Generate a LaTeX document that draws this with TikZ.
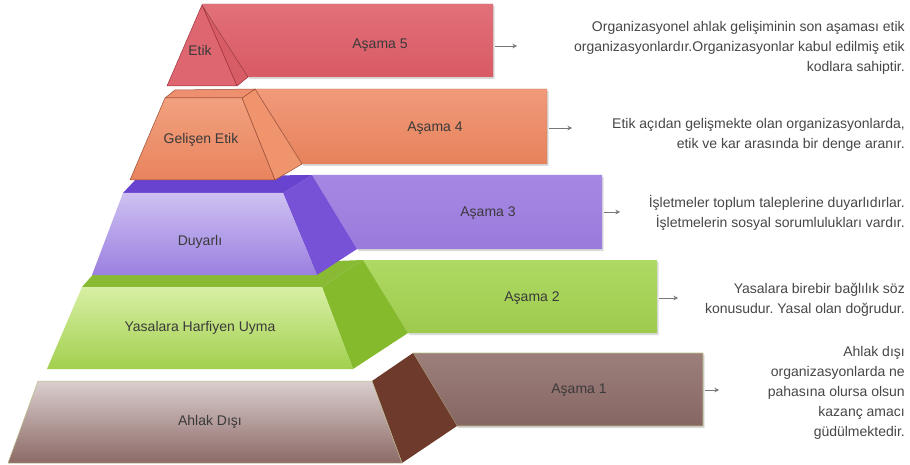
\documentclass[tikz,border=0pt]{standalone}
\usepackage{fontspec}
\setmainfont{Liberation Sans}
\frenchspacing
\usetikzlibrary{arrows.meta,shadows}
\definecolor{labeltext}{HTML}{3A3A3A}
\definecolor{desctext}{HTML}{474747}
\definecolor{arrowgray}{HTML}{777777}
% brown
\definecolor{brBoxA}{HTML}{9C7F7B}\definecolor{brBoxM}{HTML}{A38884}\definecolor{brBoxB}{HTML}{866662}
\definecolor{brFrontA}{HTML}{DACECE}\definecolor{brFrontB}{HTML}{8C6A66}
\definecolor{brSide}{HTML}{6E3A2C}\definecolor{brEdge}{HTML}{BDBF8A}
% green
\definecolor{grBoxA}{HTML}{AED963}\definecolor{grBoxB}{HTML}{9ECB4E}
\definecolor{grFrontA}{HTML}{D8EFA4}\definecolor{grFrontB}{HTML}{A2D04E}
\definecolor{grTop}{HTML}{88BA34}\definecolor{grSide}{HTML}{84BA2C}
% purple
\definecolor{puBoxA}{HTML}{A688E3}\definecolor{puBoxB}{HTML}{9A7BDC}
\definecolor{puFrontA}{HTML}{CEC0F2}\definecolor{puFrontB}{HTML}{9B80E0}
\definecolor{puTop}{HTML}{6743CF}\definecolor{puSide}{HTML}{7752D6}
% orange
\definecolor{orBoxA}{HTML}{F29A7A}\definecolor{orBoxB}{HTML}{E6825C}
\definecolor{orFrontA}{HTML}{F2A07E}\definecolor{orFrontB}{HTML}{E8845E}
\definecolor{orTop}{HTML}{EE9070}\definecolor{orSide}{HTML}{F0946E}
\definecolor{orEdge}{HTML}{9A4E36}
% red
\definecolor{reBoxA}{HTML}{E2707A}\definecolor{reBoxB}{HTML}{D85A64}
\definecolor{reFront}{HTML}{DE6670}\definecolor{reSide}{HTML}{D65C66}
\definecolor{reEdge}{HTML}{A0303A}
\begin{document}
\begin{tikzpicture}[x=1pt,y=-1pt,
  lbl/.style={font=\fontsize{14}{17}\selectfont, text=labeltext, inner sep=0pt},
  desc/.style={font=\fontsize{14}{20}\selectfont, text=desctext, align=right, anchor=east, inner sep=0pt},
  conn/.style={draw=arrowgray, line width=0.8pt, -{Stealth[length=4.5pt,width=4.5pt]}},
  boxshadow/.style={drop shadow={opacity=0.28, shadow xshift=1.5pt, shadow yshift=-2pt}},
  face/.style={line join=round}]
\useasboundingbox (0,0) rectangle (910,465);
\fill[white] (0,0) rectangle (910,465);

% ---------- Level 1: Ahlak Disi ----------
\path[face, boxshadow, top color=brBoxA, middle color=brBoxM, bottom color=brBoxB, draw=brEdge, line width=0.6pt]
  (413,353) -- (703,353) -- (703,426) -- (457,426) -- cycle;
\path[face, fill=brSide] (372,381) -- (413,353) -- (457,426) -- (402,463) -- cycle;
\path[face, top color=brFrontA, bottom color=brFrontB, draw=brEdge, line width=0.5pt]
  (38,381) -- (372,381) -- (402,463) -- (8,463) -- cycle;
\node[lbl] (l1) at (210,422) {Ahlak Dışı};
\node[lbl] (s1) at (579,390) {Aşama 1};

% ---------- Level 2: Yasalara Harfiyen Uyma ----------
\path[face, boxshadow, top color=grBoxA, bottom color=grBoxB]
  (363,260) -- (657,260) -- (657,333) -- (408,333) -- cycle;
\path[face, fill=grSide] (322,287) -- (363,260) -- (408,333) -- (353,369) -- cycle;
\path[face, fill=grTop] (82,287) -- (97,270) -- (363,260) -- (322,287) -- cycle;
\path[face, top color=grFrontA, bottom color=grFrontB]
  (82,287) -- (322,287) -- (353,369) -- (47,369) -- cycle;
\node[lbl] (l2) at (200,328) {Yasalara Harfiyen Uyma};
\node[lbl] (s2) at (532,298) {Aşama 2};

% ---------- Level 3: Duyarli ----------
\path[face, boxshadow, top color=puBoxA, bottom color=puBoxB]
  (312,175) -- (602,175) -- (602,249) -- (357,249) -- cycle;
\path[face, fill=puSide] (283,193) -- (312,175) -- (357,249) -- (317,275) -- cycle;
\path[face, fill=puTop] (123,193) -- (138,177) -- (312,175) -- (283,193) -- cycle;
\path[face, top color=puFrontA, bottom color=puFrontB]
  (123,193) -- (283,193) -- (317,275) -- (92,275) -- cycle;
\node[lbl] (l3) at (200,242) {Duyarlı};
\node[lbl] (s3) at (488,213) {Aşama 3};

% ---------- Level 4: Gelisen Etik ----------
\path[face, boxshadow, top color=orBoxA, bottom color=orBoxB, draw=orEdge!70, line width=0.4pt]
  (255,89) -- (547,89) -- (547,164) -- (302,164) -- cycle;
\path[face, fill=orSide, draw=orEdge, line width=0.5pt] (242,98) -- (255,89) -- (302,164) -- (275,180) -- cycle;
\path[face, fill=orTop, draw=orEdge, line width=0.5pt] (165,98) -- (175,90) -- (255,89) -- (242,98) -- cycle;
\path[face, top color=orFrontA, bottom color=orFrontB, draw=orEdge, line width=0.5pt]
  (165,98) -- (242,98) -- (275,180) -- (130,180) -- cycle;
\node[lbl] (l4) at (201,140) {Gelişen Etik};
\node[lbl] (s4) at (435,128) {Aşama 4};

% ---------- Level 5: Etik ----------
\path[face, boxshadow, top color=reBoxA, bottom color=reBoxB, draw=reEdge!60, line width=0.4pt]
  (202,4) -- (493,4) -- (493,77) -- (248,77) -- cycle;
\path[face, fill=reSide, draw=reEdge, line width=0.5pt] (202,5) -- (248,77) -- (237,86) -- cycle;
\path[face, fill=reFront, draw=reEdge, line width=0.5pt] (202,5) -- (237,86) -- (167,86) -- cycle;
\node[lbl] (l5) at (200,50) {Etik};
\node[lbl] (s5) at (380,45) {Aşama 5};

% ---------- arrows ----------
\coordinate (b5) at (495,46);  \coordinate (t5) at (517,46);
\coordinate (b4) at (549,128); \coordinate (t4) at (572,128);
\coordinate (b3) at (604,212); \coordinate (t3) at (620,212);
\coordinate (b2) at (659,298); \coordinate (t2) at (678,298);
\coordinate (b1) at (705,390); \coordinate (t1) at (719,390);
\draw[conn] (b5) -- (t5);
\draw[conn] (b4) -- (t4);
\draw[conn] (b3) -- (t3);
\draw[conn] (b2) -- (t2);
\draw[conn] (b1) -- (t1);

% ---------- descriptions ----------
\node[desc] (d5) at (905,48) {Organizasyonel ahlak gelişiminin son aşaması etik\\organizasyonlardır.Organizasyonlar kabul edilmiş etik\\kodlara sahiptir.};
\node[desc] (d4) at (905,135) {Etik açıdan gelişmekte olan organizasyonlarda,\\etik ve kar arasında bir denge aranır.};
\node[desc] (d3) at (905,213) {İşletmeler toplum taleplerine duyarlıdırlar.\\İşletmelerin sosyal sorumlulukları vardır.};
\node[desc] (d2) at (905,300) {Yasalara birebir bağlılık söz\\konusudur. Yasal olan doğrudur.};
\node[desc] (d1) at (905,393) {Ahlak dışı\\organizasyonlarda ne\\pahasına olursa olsun\\kazanç amacı\\güdülmektedir.};
\end{tikzpicture}
\end{document}
